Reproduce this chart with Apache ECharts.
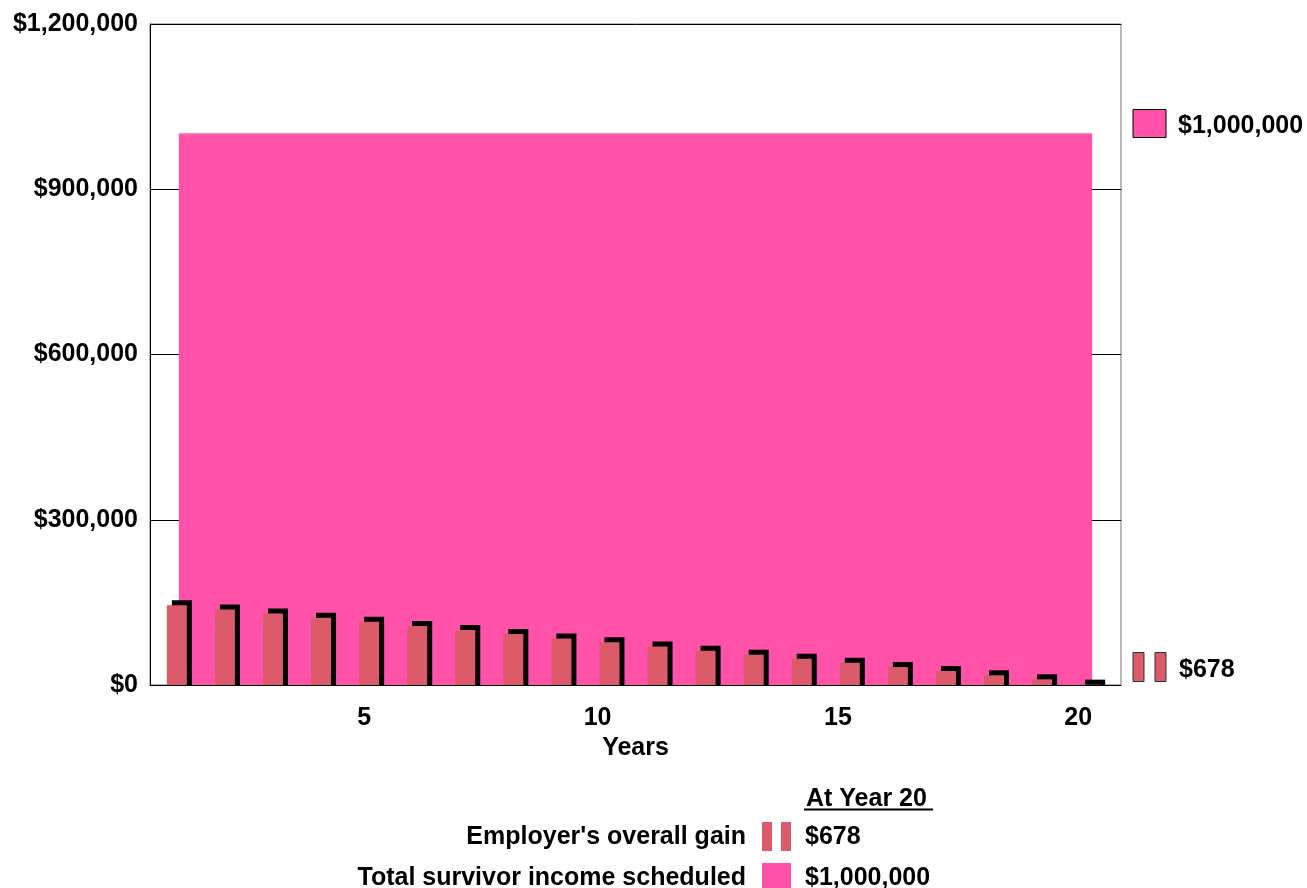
<!DOCTYPE html>
<html>
<head>
<meta charset="utf-8">
<script src="https://cdn.jsdelivr.net/npm/echarts@6/dist/echarts.min.js"></script>
<style>
html,body{margin:0;padding:0;background:#fff;}
#chart{width:1307px;height:888px;}
</style>
</head>
<body>
<div id="chart"></div>
<script>
// ---- data ----
var years = [1,2,3,4,5,6,7,8,9,10,11,12,13,14,15,16,17,18,19,20];
var employerGain = [145000,137200,130000,122000,114800,107000,99700,92400,84600,77400,69800,62200,55000,47700,40400,32600,25400,17600,10300,678];
var survivorIncome = [1000000,1000000,1000000,1000000,1000000,1000000,1000000,1000000,1000000,1000000,1000000,1000000,1000000,1000000,1000000,1000000,1000000,1000000,1000000,1000000];
var xTickLabels = [5,10,15,20];
var yTicks = [0,300000,600000,900000,1200000];
var legendTitle = 'At Year 20';
var legendNames = ["Employer's overall gain", 'Total survivor income scheduled'];
var legendValues = ['$678', '$1,000,000'];

var FONT = '"Liberation Sans", Arial, Helvetica, sans-serif';
var FS = 25;
var PINK = '#FF52A8';
var BAR = '#DB5B6B';

function money(v){ return '$' + Math.round(v).toString().replace(/\B(?=(\d{3})+(?!\d))/g, ','); }

var chart = echarts.init(document.getElementById('chart'), null, {renderer:'canvas'});

var option = {
  animation: false,
  backgroundColor: '#fff',
  grid: {left:150, top:24, width:971, height:661, show:true, borderColor:'#777', borderWidth:1, backgroundColor:'transparent'},
  xAxis: {
    type: 'value', min: 0.4, max: 20.6,
    name: 'Years', nameLocation: 'middle', nameGap: 40,
    nameTextStyle: {fontFamily: FONT, fontWeight: 'bold', fontSize: FS, color: '#000'},
    axisLine: {show: true, onZero: false, lineStyle: {color: '#000', width: 1}},
    axisTick: {show: false},
    splitLine: {show: false},
    axisLabel: {
      customValues: xTickLabels, align: 'right', margin: 21,
      fontFamily: FONT, fontWeight: 'bold', fontSize: FS, color: '#000'
    }
  },
  yAxis: {
    type: 'value', min: 0, max: 1200000, interval: 300000,
    axisLine: {show: true, lineStyle: {color: '#000', width: 1}},
    axisTick: {show: false},
    splitLine: {show: true, lineStyle: {color: '#000', width: 1}},
    axisLabel: {
      margin: 12, fontFamily: FONT, fontWeight: 'bold', fontSize: FS, color: '#000',
      formatter: function(v){ return money(v); }
    }
  },
  series: [
    {
      type: 'line', name: legendNames[1],
      data: years.map(function(y,i){ return [y, survivorIncome[i]]; }),
      symbol: 'none',
      lineStyle: {color: '#FF5FB0', width: 2},
      areaStyle: {color: PINK, opacity: 1},
      z: 2
    },
    {
      type: 'custom', name: legendNames[0],
      data: years.map(function(y,i){ return [y, employerGain[i]]; }),
      encode: {x: 0, y: 1},
      z: 3,
      renderItem: function(params, api){
        var x = api.value(0), v = api.value(1);
        var top = api.coord([x, v]);
        var base = api.coord([x, 0]);
        var w = 20, off = 5;
        var cx = top[0] - 2;
        return {type: 'group', children: [
          {type: 'rect', shape: {x: cx - w/2 + off, y: top[1] - off, width: w, height: base[1] - top[1] + off}, style: {fill: '#000'}},
          {type: 'rect', shape: {x: cx - w/2, y: top[1], width: w, height: base[1] - top[1]}, style: {fill: BAR}}
        ]};
      }
    }
  ],
  graphic: [
    // right-side value tags
    {type:'rect', shape:{x:1133, y:109.5, width:33, height:28}, style:{fill:PINK, stroke:'#000', lineWidth:1}},
    {type:'text', left:1178, top:114, style:{text: legendValues[1], font:'bold ' + FS + 'px ' + FONT, fill:'#000'}},
    {type:'rect', shape:{x:1133, y:652.5, width:11, height:29}, style:{fill:BAR, stroke:'#333', lineWidth:1}},
    {type:'rect', shape:{x:1155, y:652.5, width:11, height:29}, style:{fill:BAR, stroke:'#333', lineWidth:1}},
    {type:'text', left:1179, top:658, style:{text: legendValues[0], font:'bold ' + FS + 'px ' + FONT, fill:'#000'}},
    // bottom legend
    {type:'text', left:806, top:787, style:{text: legendTitle, font:'bold ' + FS + 'px ' + FONT, fill:'#000'}},
    {type:'line', shape:{x1:804, y1:809.5, x2:933, y2:809.5}, style:{stroke:'#000', lineWidth:2}},
    {type:'text', right:1307-746, top:825, style:{text: legendNames[0], font:'bold ' + FS + 'px ' + FONT, fill:'#000', align:'right'}},
    {type:'rect', shape:{x:762, y:822, width:10, height:29}, style:{fill:BAR}},
    {type:'rect', shape:{x:781, y:822, width:10, height:29}, style:{fill:BAR}},
    {type:'text', left:805, top:825, style:{text: legendValues[0], font:'bold ' + FS + 'px ' + FONT, fill:'#000'}},
    {type:'text', right:1307-746, top:866, style:{text: legendNames[1], font:'bold ' + FS + 'px ' + FONT, fill:'#000', align:'right'}},
    {type:'rect', shape:{x:762, y:863, width:29, height:26}, style:{fill:PINK}},
    {type:'text', left:805, top:866, style:{text: legendValues[1], font:'bold ' + FS + 'px ' + FONT, fill:'#000'}}
  ]
};
chart.setOption(option);
</script>
</body>
</html>
